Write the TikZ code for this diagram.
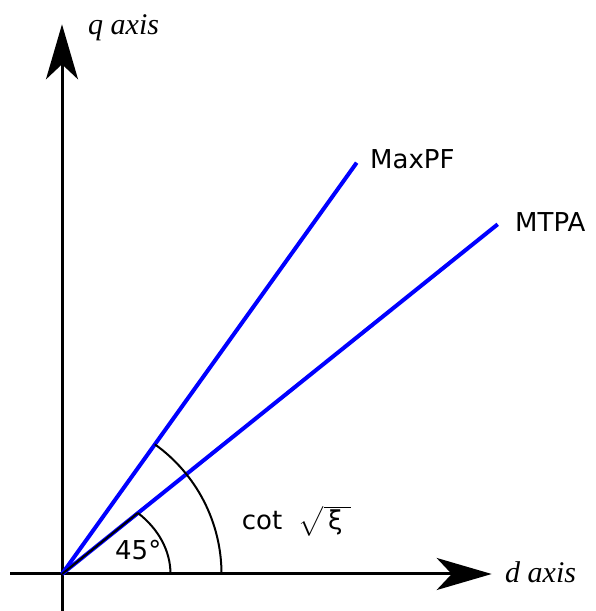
\RequirePackage{fix-cm}
\documentclass[tikz,border=0pt]{standalone}
\usepackage{exscale}
\usepackage{fontspec}
\setmainfont{DejaVu Sans}
\newfontfamily\serifit{Liberation Serif}
\usetikzlibrary{arrows.meta}
\begin{document}
\begin{tikzpicture}[x=1pt,y=1pt,
  axisline/.style={line width=3pt,-{Stealth[length=55pt,width=32pt,inset=15pt]}},
  curve/.style={blue,line width=4pt},
  anglearc/.style={black,line width=2pt},
  lbl/.style={anchor=base west,inner sep=0pt,font=\fontsize{26}{30}\selectfont},
  axlbl/.style={anchor=base west,inner sep=0pt,font=\fontsize{30}{34}\selectfont\serifit\itshape}]
\useasboundingbox (0,0) rectangle (595,611);
\coordinate (O) at (62,37);
\coordinate (qb) at (62,0);
\coordinate (qt) at (62,586.7);
\coordinate (dl) at (10,37);
\coordinate (dr) at (491.7,37);
\coordinate (maxpf) at (356.7,448.3);
\coordinate (mtpa) at (497.7,386.7);
\coordinate (s0) at (170.5,37);
\coordinate (s1) at (137.9,98.0);
\coordinate (b0) at (221.5,37);
\draw[axisline] (qb) -- (qt);
\draw[axisline] (dl) -- (dr);
\draw[curve] (O) -- (maxpf);
\draw[curve] (O) -- (mtpa);
\draw[anglearc] (O) -- (s1);
\draw[anglearc] (s0) arc[start angle=0,end angle=45.6,x radius=108.5pt,y radius=85.4pt];
\draw[anglearc] (b0) arc[start angle=0,end angle=54.4,radius=159.5pt];
\node[axlbl] (ql) at (88,576) {q axis};
\node[axlbl] (dlb) at (505,28) {d axis};
\node[lbl] (l1) at (370,442.7) {MaxPF};
\node[lbl] (l2) at (515,379.3) {MTPA};
\node[lbl] (l3) at (241.7,81) {cot\ \ $\sqrt{\mbox{\,ξ\,\,}}$};
\node[lbl] (l4) at (115,51) {45°};
\end{tikzpicture}
\end{document}
